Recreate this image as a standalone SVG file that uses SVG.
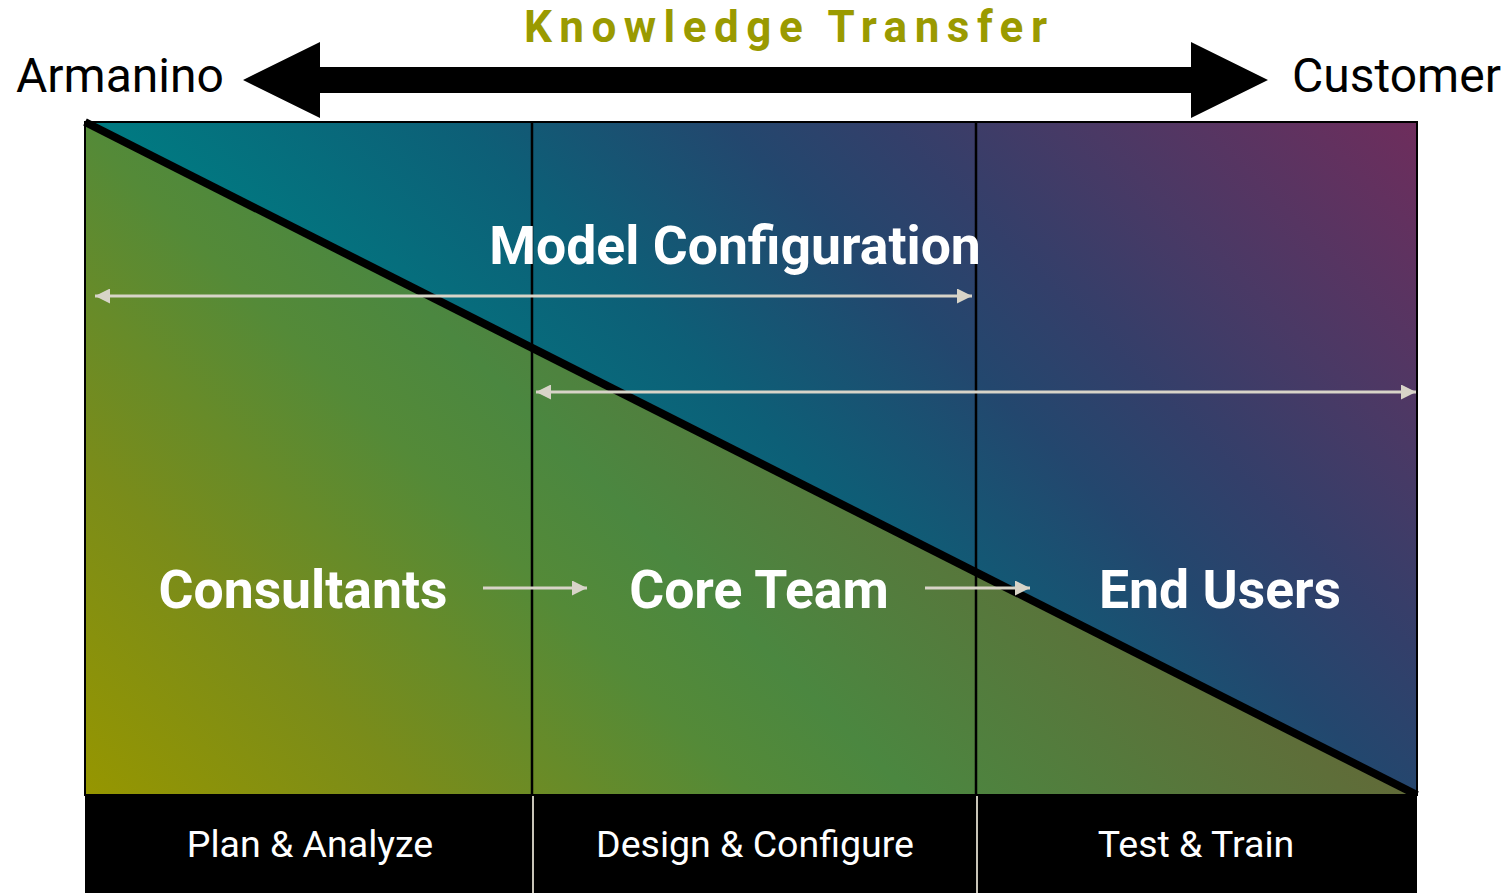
<svg xmlns="http://www.w3.org/2000/svg" width="1508" height="893" viewBox="0 0 1508 893">
  <defs>
    <!-- upper (customer) triangle: teal to blue to purple -->
    <linearGradient id="gradUpper" gradientUnits="userSpaceOnUse" x1="85" y1="122" x2="751" y2="-544">
      <stop offset="0" stop-color="#007B82"/>
      <stop offset="0.28" stop-color="#0D5F77"/>
      <stop offset="0.48" stop-color="#23476E"/>
      <stop offset="0.6" stop-color="#333F6A"/>
      <stop offset="0.75" stop-color="#4A3965"/>
      <stop offset="1" stop-color="#6E2D5C"/>
    </linearGradient>
    <!-- lower (armanino) triangle: olive to green to grey-olive -->
    <linearGradient id="gradLower" gradientUnits="userSpaceOnUse" x1="85" y1="795" x2="751" y2="129">
      <stop offset="0" stop-color="#969600"/>
      <stop offset="0.25" stop-color="#7A8C1A"/>
      <stop offset="0.5" stop-color="#548A38"/>
      <stop offset="0.62" stop-color="#4B8740"/>
      <stop offset="1" stop-color="#616A38"/>
    </linearGradient>
    <marker id="head" viewBox="0 0 10 10" refX="10" refY="5" markerWidth="5" markerHeight="5" markerUnits="strokeWidth" orient="auto-start-reverse">
      <path d="M0,0 L10,5 L0,10 Z" fill="#D8D4C8"/>
    </marker>
    <style>
      .side { font-family: Roboto, "Liberation Sans", sans-serif; font-size: 48px; fill: #000; }
      .title { font-family: Roboto, "Liberation Sans", sans-serif; font-weight: bold; font-size: 44px; fill: #9A9A00; }
      .big { font-family: Roboto, "Liberation Sans", sans-serif; font-weight: bold; font-size: 53.5px; fill: #fff; text-anchor: middle; }
      .phase { font-family: Roboto, "Liberation Sans", sans-serif; font-size: 37.5px; fill: #fff; text-anchor: middle; }
      .flow { stroke: #D8D4C8; stroke-width: 3; fill: none; }
      .divider { stroke: #000; stroke-width: 2.5; }
      .sep { stroke: #C9C5B8; stroke-width: 2; }
    </style>
  </defs>

  <!-- header: knowledge transfer arrow -->
  <g id="header">
    <text class="title" x="524" y="42" textLength="523" lengthAdjust="spacing">Knowledge Transfer</text>
    <polygon points="243,80 320,42 320,67 1191,67 1191,42 1268,80 1191,118 1191,93 320,93 320,118" fill="#000"/>
  </g>
  <g id="armanino"><text class="side" x="16" y="92">Armanino</text></g>
  <g id="customer"><text class="side" x="1292" y="92">Customer</text></g>

  <!-- main panel -->
  <g id="panel">
    <polygon points="85,122 1417,122 1417,795" fill="url(#gradUpper)"/>
    <polygon points="85,122 1417,795 85,795" fill="url(#gradLower)"/>
    <line class="divider" x1="532" y1="122" x2="532" y2="795"/>
    <line class="divider" x1="976" y1="122" x2="976" y2="795"/>
    <rect x="85" y="122" width="1332" height="673" fill="none" stroke="#000" stroke-width="2"/>
    <line x1="85" y1="122" x2="1417" y2="795" stroke="#000" stroke-width="8"/>
  </g>

  <g id="model-configuration"><text class="big" x="735" y="264">Model Configuration</text></g>
  <g id="consultants"><text class="big" x="303" y="608">Consultants</text></g>
  <g id="core-team"><text class="big" x="759" y="608">Core Team</text></g>
  <g id="end-users"><text class="big" x="1220" y="608">End Users</text></g>

  <!-- connectors -->
  <g id="connectors">
    <line class="flow" x1="95" y1="296" x2="972" y2="296" marker-start="url(#head)" marker-end="url(#head)"/>
    <line class="flow" x1="536" y1="392" x2="1416" y2="392" marker-start="url(#head)" marker-end="url(#head)"/>
    <line class="flow" x1="483" y1="588" x2="587" y2="588" marker-end="url(#head)"/>
    <line class="flow" x1="925" y1="588" x2="1030" y2="588" marker-end="url(#head)"/>
  </g>

  <!-- phase bar -->
  <g id="phase-bar">
    <rect x="85" y="796" width="1332" height="97" fill="#000"/>
    <line class="sep" x1="533" y1="796" x2="533" y2="893"/>
    <line class="sep" x1="977" y1="796" x2="977" y2="893"/>
  </g>
  <g id="plan-analyze"><text class="phase" x="310" y="857">Plan &amp; Analyze</text></g>
  <g id="design-configure"><text class="phase" x="755" y="857">Design &amp; Configure</text></g>
  <g id="test-train"><text class="phase" x="1196" y="857">Test &amp; Train</text></g>
</svg>
